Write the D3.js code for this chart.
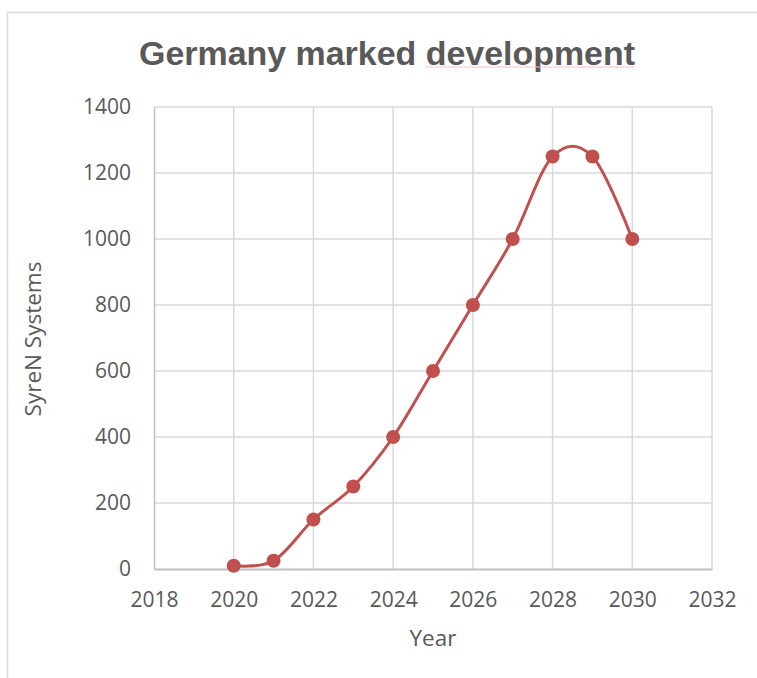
<!DOCTYPE html>
<html>
<head>
<meta charset="utf-8">
<title>Germany marked development</title>
<style>
  body { margin: 0; background: #fff; }
  .tick text { font-family: "Open Sans", sans-serif; fill: #595959; }
</style>
</head>
<body>
<div id="chart"></div>
<script src="https://cdn.jsdelivr.net/npm/d3@7"></script>
<script>
// data
var years = [2020, 2021, 2022, 2023, 2024, 2025, 2026, 2027, 2028, 2029, 2030];
var systems = [10, 25, 150, 250, 400, 600, 800, 1000, 1250, 1250, 1000];
var xTicks = [2018, 2020, 2022, 2024, 2026, 2028, 2030, 2032];
var yTicks = [0, 200, 400, 600, 800, 1000, 1200, 1400];

var width = 757, height = 678;
var margin = {top: 107, right: 45, bottom: 109, left: 154};

var svg = d3.select("#chart").append("svg")
  .attr("width", width)
  .attr("height", height);

// outer frame (only top and left edges are visible)
svg.append("rect")
  .attr("x", 7.5).attr("y", 12.5)
  .attr("width", 900).attr("height", 900)
  .attr("fill", "none")
  .attr("stroke", "#d9d9d9")
  .attr("stroke-width", 1.5);

var x = d3.scaleLinear().domain([2018, 2032]).range([margin.left, width - margin.right]);
var y = d3.scaleLinear().domain([0, 1400]).range([height - margin.bottom, margin.top]);

// gridlines
svg.append("g")
  .selectAll("line")
  .data(xTicks.slice(1))
  .enter().append("line")
  .attr("x1", function(d) { return x(d); })
  .attr("x2", function(d) { return x(d); })
  .attr("y1", y(0)).attr("y2", y(1400))
  .attr("stroke", "#d9d9d9").attr("stroke-width", 1.5);

svg.append("g")
  .selectAll("line")
  .data(yTicks.slice(1))
  .enter().append("line")
  .attr("x1", x(2018)).attr("x2", x(2032))
  .attr("y1", function(d) { return y(d); })
  .attr("y2", function(d) { return y(d); })
  .attr("stroke", "#d9d9d9").attr("stroke-width", 1.5);

// axes
var xAxis = svg.append("g")
  .attr("transform", "translate(0," + y(0) + ")")
  .call(d3.axisBottom(x).tickValues(xTicks).tickFormat(d3.format("d")).tickSize(0).tickPadding(23));
xAxis.select(".domain").attr("stroke", "#bfbfbf").attr("stroke-width", 2);
xAxis.selectAll("text").style("font-size", "21px");

var yAxis = svg.append("g")
  .attr("transform", "translate(" + x(2018) + ",0)")
  .call(d3.axisLeft(y).tickValues(yTicks).tickFormat(d3.format("d")).tickSize(0).tickPadding(23));
yAxis.select(".domain").attr("stroke", "#bfbfbf").attr("stroke-width", 1.5);
yAxis.selectAll("text").style("font-size", "21px");

// line + markers
var line = d3.line()
  .x(function(d, i) { return x(years[i]); })
  .y(function(d) { return y(d); })
  .curve(d3.curveCardinal.tension(0));

svg.append("path")
  .datum(systems)
  .attr("d", line)
  .attr("fill", "none")
  .attr("stroke", "#c0504d")
  .attr("stroke-width", 3);

svg.selectAll("circle.pt")
  .data(systems)
  .enter().append("circle")
  .attr("class", "pt")
  .attr("cx", function(d, i) { return x(years[i]); })
  .attr("cy", function(d) { return y(d); })
  .attr("r", 7)
  .attr("fill", "#c0504d");

// title
svg.append("text")
  .attr("x", 139).attr("y", 65)
  .attr("textLength", 496)
  .attr("lengthAdjust", "spacingAndGlyphs")
  .style("font-family", "'Liberation Sans', Arial, sans-serif")
  .style("font-weight", "bold")
  .style("font-size", "34px")
  .style("fill", "#595959")
  .text("Germany marked development");

// spell-check squiggle under "development"
svg.append("line")
  .attr("x1", 425).attr("x2", 635)
  .attr("y1", 67).attr("y2", 67)
  .attr("stroke", "#f4c0bd").attr("stroke-width", 1);

// axis titles
svg.append("text")
  .attr("x", 433).attr("y", 646)
  .attr("text-anchor", "middle")
  .style("font-family", "'Open Sans', sans-serif")
  .style("font-size", "22.5px")
  .style("fill", "#595959")
  .text("Year");

svg.append("text")
  .attr("transform", "translate(41,339) rotate(-90)")
  .attr("text-anchor", "middle")
  .style("font-family", "'Open Sans', sans-serif")
  .style("font-size", "22.5px")
  .style("fill", "#595959")
  .text("SyreN Systems");
</script>
</body>
</html>
